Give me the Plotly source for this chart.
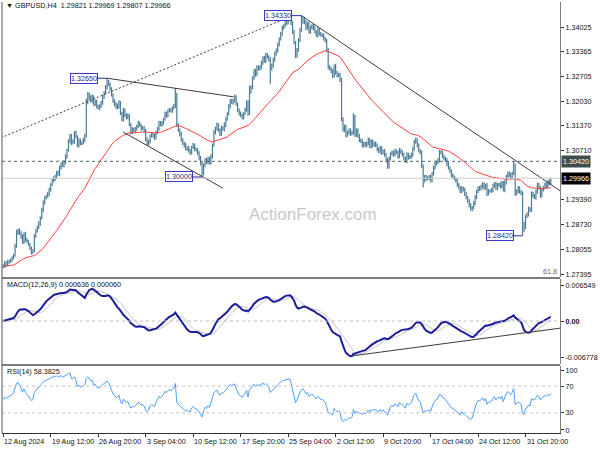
import pandas as pd
import plotly.graph_objects as go

# ---------------- data ----------------
BASE = 1.2700          # price values below are pips above this level
OPEN0 = 62             # open of the first visible H4 bar (12 Aug 2024 04:00)

# H4 closes, one row per trading day (12 Aug .. 5 Nov 2024)
CLOSE_PIPS = [
    60, 70, 64, 72, 74,
    78, 82, 90, 115, 150, 157,
    150, 140, 125, 148, 132, 127,
    120, 108, 98, 102, 140, 155,
    165, 175, 190, 210, 232, 245,
    248, 255, 265, 280, 290, 295,
    300, 312, 308, 325, 335, 330,
    340, 355, 372, 395, 410, 392,
    395, 418, 408, 385, 398, 390,
    392, 400, 410, 500, 522, 513,
    505, 515, 495, 502, 490, 485,
    490, 500, 515, 525, 540, 555,
    550, 535, 520, 505, 495, 487,
    490, 500, 470, 455, 480, 465,
    460, 465, 440, 420, 428, 425,
    430, 435, 445, 440, 430, 432,
    425, 400, 390, 395, 410, 415,
    410, 405, 420, 430, 445, 440,
    445, 455, 470, 465, 478, 480,
    478, 485, 490, 520, 440, 425,
    415, 400, 390, 385, 375, 378,
    370, 365, 380, 385, 375, 372,
    365, 350, 335, 310, 330, 345,
    340, 350, 338, 355, 385, 420,
    430, 440, 425, 415, 432, 428,
    440, 455, 470, 490, 505, 500,
    505, 515, 495, 480, 470, 465,
    460, 470, 480, 500, 470, 530,
    540, 565, 585, 575, 595, 590,
    595, 605, 620, 612, 628, 622,
    615, 590, 600, 615, 630, 640,
    655, 670, 685, 700, 705, 712,
    715, 722, 725, 712, 690, 660,
    625, 640, 668, 695, 715, 725,
    715, 700, 712, 690, 700, 705,
    700, 690, 680, 695, 685, 680,
    680, 672, 665, 640, 595, 590,
    585, 570, 598, 580, 572, 575,
    560, 455, 425, 435, 412, 420,
    425, 415, 420, 460, 412, 425,
    410, 400, 395, 385, 390, 385,
    390, 400, 382, 395, 385, 390,
    385, 375, 368, 378, 365, 370,
    360, 345, 328, 350, 362, 365,
    360, 370, 365, 355, 372, 365,
    360, 350, 342, 360, 352, 355,
    360, 375, 395, 400, 385, 370,
    365, 330, 290, 300, 295, 298,
    300, 290, 310, 325, 335, 340,
    345, 368, 365, 355, 350, 345,
    335, 325, 315, 305, 300, 295,
    290, 280, 270, 262, 270, 265,
    255, 245, 235, 225, 215, 218,
    230, 245, 262, 270, 268, 275,
    280, 270, 278, 255, 262, 262,
    265, 275, 282, 270, 278, 280,
    275, 285, 265, 285, 300, 310,
    305, 300, 310, 330, 255, 262,
    270, 260, 255, 175, 165, 195,
    200, 215, 210, 255, 250, 245,
    260, 280, 270, 250, 265, 272,
    280, 275, 288, 282.1, 296.6,
]

# upper wick above the bar body, pips
UP_WICK = [
    4, 5, 3, 6, 4,
    3, 5, 4, 6, 8, 4,
    5, 4, 6, 3, 5, 4,
    4, 3, 5, 4, 6, 5,
    5, 6, 4, 7, 5, 4,
    4, 5, 6, 3, 5, 6,
    6, 4, 5, 6, 4, 5,
    5, 6, 4, 7, 6, 5,
    6, 5, 7, 4, 6, 5,
    4, 5, 6, 10, 6, 5,
    6, 7, 4, 6, 5, 4,
    5, 4, 6, 5, 6, 10,
    5, 4, 6, 5, 4, 6,
    7, 6, 4, 5, 6, 4,
    5, 6, 4, 5, 6, 4,
    4, 5, 6, 4, 3, 5,
    5, 4, 6, 5, 4, 5,
    4, 6, 5, 4, 6, 5,
    5, 4, 6, 5, 4, 6,
    4, 5, 6, 19, 6, 5,
    5, 6, 4, 5, 6, 4,
    6, 5, 4, 6, 5, 4,
    5, 4, 6, 5, 6, 5,
    6, 5, 4, 6, 5, 6,
    5, 6, 4, 5, 6, 4,
    6, 5, 4, 6, 5, 4,
    5, 6, 4, 5, 4, 6,
    5, 4, 6, 5, 6, 15,
    6, 5, 4, 6, 5, 4,
    5, 6, 4, 5, 6, 4,
    5, 6, 4, 5, 6, 5,
    6, 5, 4, 6, 5, 6,
    5, 4, 3, 5, 6, 5,
    5, 6, 4, 5, 18, 4,
    5, 6, 4, 5, 6, 5,
    6, 5, 4, 6, 5, 4,
    5, 6, 4, 5, 6, 5,
    6, 5, 4, 6, 5, 4,
    5, 6, 5, 6, 5, 4,
    5, 6, 4, 11, 6, 5,
    6, 5, 4, 6, 5, 4,
    5, 6, 4, 5, 6, 4,
    6, 5, 4, 6, 5, 4,
    5, 4, 6, 5, 4, 6,
    5, 6, 4, 5, 6, 4,
    6, 5, 4, 6, 5, 4,
    5, 6, 5, 6, 4, 5,
    5, 6, 4, 5, 6, 4,
    6, 5, 4, 6, 5, 4,
    5, 5, 4, 6, 5, 4,
    6, 5, 4, 6, 5, 4,
    5, 6, 4, 5, 6, 4,
    6, 5, 4, 6, 5, 4,
    5, 6, 4, 5, 6, 4,
    6, 5, 4, 6, 5, 4,
    5, 6, 4, 5, 6, 4,
    6, 5, 4, 6, 5, 4,
    5, 6, 4, 13, 6, 5,
    6, 5, 4, 6, 5, 4,
    5, 6, 4, 6, 5, 4,
    6, 5, 4, 6, 5, 4,
    5, 6, 4, 5, 0.3,
]

# lower wick below the bar body, pips
DN_WICK = [
    5, 4, 6, 3, 5,
    4, 5, 3, 4, 5, 6,
    5, 6, 4, 5, 6, 4,
    5, 4, 6, 5, 4, 3,
    4, 5, 6, 4, 5, 6,
    5, 4, 6, 5, 4, 5,
    6, 5, 4, 6, 5, 4,
    4, 5, 6, 4, 5, 6,
    5, 6, 4, 5, 6, 5,
    4, 5, 6, 4, 5, 6,
    5, 6, 4, 5, 6, 4,
    5, 4, 6, 5, 4, 5,
    6, 5, 4, 6, 5, 4,
    5, 6, 4, 5, 6, 4,
    6, 5, 4, 6, 5, 4,
    5, 6, 4, 5, 6, 4,
    6, 5, 4, 6, 5, 4,
    5, 6, 4, 5, 6, 4,
    6, 5, 4, 6, 5, 4,
    5, 6, 4, 5, 6, 4,
    6, 5, 4, 6, 5, 4,
    5, 6, 4, 5, 6, 4,
    6, 5, 4, 10, 6, 4,
    5, 6, 4, 5, 6, 4,
    6, 5, 4, 6, 5, 4,
    5, 6, 4, 5, 6, 4,
    6, 5, 4, 6, 5, 4,
    5, 6, 4, 5, 6, 4,
    6, 5, 4, 6, 5, 4,
    5, 6, 4, 5, 6, 4,
    5, 40, 4, 6, 5, 4,
    6, 5, 4, 6, 5, 4,
    5, 6, 4, 5, 6, 4,
    6, 5, 4, 6, 5, 4,
    5, 6, 4, 5, 6, 4,
    6, 5, 4, 6, 5, 4,
    5, 6, 4, 5, 6, 4,
    6, 5, 4, 6, 5, 4,
    5, 6, 4, 5, 6, 4,
    6, 5, 4, 6, 5, 4,
    5, 6, 4, 5, 6, 4,
    6, 5, 4, 6, 5, 4,
    5, 6, 4, 5, 6, 4,
    5, 6, 6, 5, 6, 4,
    6, 5, 4, 6, 5, 4,
    5, 6, 4, 5, 6, 4,
    6, 5, 4, 6, 5, 4,
    5, 6, 18, 5, 6, 4,
    6, 5, 4, 6, 5, 4,
    5, 6, 4, 5, 6, 4,
    6, 5, 4, 6, 5, 4,
    5, 6, 4, 5, 6, 4,
    6, 5, 4, 6, 5, 8,
    5, 6, 4, 5, 6, 4,
    6, 5, 4, 6, 5, 4,
    5, 6, 4, 5, 6, 4,
    6, 5, 4, 6, 5, 4,
    5, 6, 4, 5, 6, 4,
    6, 5, 4, 33, 12, 5,
    5, 6, 4, 5, 6, 4,
    6, 5, 4, 6, 5, 4,
    5, 6, 4, 5, 1.4,
]

TICK_BARS = [0, 32, 64, 96, 128, 160, 192, 224, 256, 288, 320, 352]
TICK_LABELS = ["12 Aug 2024", "19 Aug 12:00", "26 Aug 20:00", "3 Sep 04:00",
               "10 Sep 12:00", "17 Sep 20:00", "25 Sep 04:00", "2 Oct 12:00",
               "9 Oct 20:00", "17 Oct 04:00", "24 Oct 12:00", "31 Oct 20:00"]
PRICE_TICKS = [1.34025, 1.33365, 1.32705, 1.32030, 1.31370, 1.30710,
               1.29390, 1.28730, 1.28055, 1.27395]
MACD_TICKS = [0.006549, 0.0, -0.006778]
MACD_TICK_TEXT = ["0.006549", "<b>0.00</b>", "-0.006778"]
# MT4 draws the 100 / 0 RSI labels just inside the window edges
RSI_TICK_POS = [93, 70, 30, 4.5]
RSI_TICK_TEXT = ["100", "70", "30", "0"]
RSI_LEVELS = [70, 30]
RESIST_LEVEL = 1.30420
FIB_LEVEL = 1.27449
# analysis lines: (bar0, price0, bar1, price1, dash)
TRENDLINES = [
    (-1.5, 1.3105, 193, 1.3430, "2px,2px"),
    (70, 1.32650, 155.3, 1.3215, "solid"),
    (80.7, 1.3121, 148, 1.2970, "solid"),
    (201, 1.34330, 375.2, 1.2963, "solid"),
]
LABEL_BARS = [70, 134, 201, 350]
LABEL_KIND = ["high", "low", "high", "low"]
TITLE = "\u25bc GBPUSD,H4  1.29821 1.29969 1.29807 1.29966"
MACD_TITLE = "MACD(12,26,9) 0.000636 0.000060"
RSI_TITLE = "RSI(14) 58.3825"

# ---------------- derived series ----------------
n = len(CLOSE_PIPS)
idx = list(range(n))
open_p = [OPEN0] + CLOSE_PIPS[:-1]
high_p = [max(a, b) + u for a, b, u in zip(open_p, CLOSE_PIPS, UP_WICK)]
low_p = [min(a, b) - d for a, b, d in zip(open_p, CLOSE_PIPS, DN_WICK)]
px = lambda v: round(BASE + v / 10000.0, 5)
O = [px(v) for v in open_p]
H = [px(v) for v in high_p]
L = [px(v) for v in low_p]
C = [px(v) for v in CLOSE_PIPS]

cs = pd.Series(C)
ema55 = cs.ewm(span=55, adjust=False).mean()
macd = cs.ewm(span=12, adjust=False).mean() - cs.ewm(span=26, adjust=False).mean()
signal = macd.rolling(9, min_periods=1).mean()

diff = cs.diff().fillna(0.0)
seed = diff.iloc[1:15].abs().mean() / 2
ag, al = seed, seed
rsi = []
for dlt in diff:
    ag = (ag * 13 + max(dlt, 0)) / 14
    al = (al * 13 + max(-dlt, 0)) / 14
    rsi.append(100 - 100 / (1 + ag / al) if al > 0 else 100)

# ---------------- figure ----------------
BAR = "#4a7b98"
FONT = "Liberation Sans"
XR = [-0.8, 375.2]
D_MAIN = [0.362, 1.0]
D_MACD = [0.1601, 0.3573]
D_RSI = [0.0, 0.1555]

fig = go.Figure()
fig.add_trace(go.Ohlc(x=idx, open=O, high=H, low=L, close=C,
                      increasing_line_color=BAR, decreasing_line_color=BAR,
                      line_width=1.2, tickwidth=0.3, xaxis="x", yaxis="y",
                      hoverinfo="skip"))
fig.add_trace(go.Scatter(x=idx, y=ema55, mode="lines",
                         line=dict(color="#ff3b3b", width=1), yaxis="y"))
fig.add_trace(go.Scatter(x=idx, y=signal, mode="lines",
                         line=dict(color="#c4c4c4", width=1), yaxis="y2"))
fig.add_trace(go.Scatter(x=idx, y=macd, mode="lines",
                         line=dict(color="#1c1c9c", width=2), yaxis="y2"))
fig.add_trace(go.Scatter(x=idx, y=rsi, mode="lines",
                         line=dict(color="#4aa0ff", width=1), yaxis="y3"))

shapes = []
for b0, p0, b1, p1, dash in TRENDLINES:
    shapes.append(dict(type="line", xref="x", yref="y", x0=b0, y0=p0, x1=b1, y1=p1,
                       line=dict(color="#3c3c3c", width=1, dash=dash)))
shapes.append(dict(type="line", xref="paper", yref="y", x0=0, x1=1,
                   y0=RESIST_LEVEL, y1=RESIST_LEVEL,
                   line=dict(color="#4f6464", width=1, dash="3px,3px")))
shapes.append(dict(type="line", xref="paper", yref="y", x0=0, x1=1,
                   y0=C[-1], y1=C[-1], line=dict(color="#cccccc", width=1)))
lo1 = int(macd.iloc[200:270].idxmin())
lo2 = int(macd.iloc[340:362].idxmin())
slope = (macd[lo2] - macd[lo1]) / (lo2 - lo1)
shapes.append(dict(type="line", xref="x", yref="y2", x0=lo1, y0=macd[lo1],
                   x1=XR[1], y1=macd[lo1] + slope * (XR[1] - lo1),
                   line=dict(color="#3c3c3c", width=1)))
shapes.append(dict(type="line", xref="paper", yref="y2", x0=0, x1=1, y0=0, y1=0,
                   line=dict(color="#bdbdbd", width=1, dash="3px,3px")))
for lv in RSI_LEVELS:
    shapes.append(dict(type="line", xref="paper", yref="y3", x0=0, x1=1, y0=lv, y1=lv,
                       line=dict(color="#c4c4c4", width=1, dash="3px,3px")))
for a, b in [(D_MACD[1], D_MAIN[0]), (D_RSI[1], D_MACD[0])]:
    shapes.append(dict(type="rect", xref="paper", yref="paper", x0=0, x1=1, y0=a, y1=b,
                       fillcolor="#7c7c7c", line=dict(width=0)))
shapes.append(dict(type="line", xref="paper", yref="paper", x0=0, x1=0, y0=0, y1=1,
                   line=dict(color="#555555", width=1)))

ann = []
small = dict(family=FONT, size=7.2, color="#111111")
ann.append(dict(text=TITLE, xref="paper", yref="paper", x=0.004, y=0.993,
                xanchor="left", yanchor="middle", showarrow=False, font=small))
ann.append(dict(text=MACD_TITLE, xref="paper", yref="paper", x=0.006, y=0.3445,
                xanchor="left", yanchor="middle", showarrow=False, font=small))
ann.append(dict(text=RSI_TITLE, xref="paper", yref="paper", x=0.006, y=0.1425,
                xanchor="left", yanchor="middle", showarrow=False, font=small))
ann.append(dict(text="ActionForex.com", xref="paper", yref="paper", x=0.557, y=0.506,
                xanchor="center", yanchor="middle", showarrow=False,
                font=dict(family=FONT, size=17, color="#c9c9c9")))
for b, t in zip(TICK_BARS, TICK_LABELS):
    ann.append(dict(text=t, xref="x", yref="paper", x=b, y=-0.0186, xanchor="left",
                    yanchor="middle", xshift=-1, showarrow=False, font=small))
for b, kind in zip(LABEL_BARS, LABEL_KIND):
    val = H[b] if kind == "high" else L[b]
    ann.append(dict(text=f"{val:.5f}", xref="x", yref="y", x=b, y=val,
                    showarrow=True, arrowhead=0, arrowwidth=1, arrowcolor="#2c2c9c",
                    ax=-23, ay=0, bgcolor="white", bordercolor="#3a3ad0",
                    borderwidth=1, borderpad=0,
                    font=dict(family=FONT, size=7.2, color="#2a2a80")))
ann.append(dict(text=f"{RESIST_LEVEL:.5f}", xref="paper", yref="y", x=1, y=RESIST_LEVEL,
                xanchor="left", yanchor="middle", xshift=1, showarrow=False,
                bgcolor="#3e4e4e", borderpad=1,
                font=dict(family=FONT, size=7.2, color="white")))
ann.append(dict(text=f"{C[-1]:.5f}", xref="paper", yref="y", x=1, y=C[-1],
                xanchor="left", yanchor="middle", xshift=1, showarrow=False,
                bgcolor="#000000", borderpad=1,
                font=dict(family=FONT, size=7.2, color="white")))
ann.append(dict(text="61.8", xref="paper", yref="y", x=1, y=FIB_LEVEL,
                xanchor="right", yanchor="middle", xshift=-1, showarrow=False,
                font=dict(family=FONT, size=7.2, color="#666666")))

yax = dict(side="right", showgrid=False, zeroline=False, ticks="outside", ticklen=3,
           tickcolor="#333333", tickfont=dict(family=FONT, size=7.2, color="#111111"),
           showline=True, linecolor="#7c7c7c", linewidth=1, anchor="x")
fig.update_layout(
    width=600, height=450, margin=dict(l=2, r=34, t=2, b=17),
    paper_bgcolor="white", plot_bgcolor="white", showlegend=False,
    font=dict(family=FONT),
    xaxis=dict(range=XR, domain=[0, 1], anchor="y3", showgrid=False, zeroline=False,
               tickvals=TICK_BARS, showticklabels=False, ticks="outside", ticklen=3,
               tickcolor="#333333", showline=True, linecolor="#333333",
               rangeslider=dict(visible=False), fixedrange=True),
    yaxis=dict(yax, domain=D_MAIN, range=[1.27315, 1.34696],
               tickvals=PRICE_TICKS, ticktext=[f"{v:.5f}" for v in PRICE_TICKS]),
    yaxis2=dict(yax, domain=D_MACD, range=[-0.00796, 0.00778],
                tickvals=MACD_TICKS, ticktext=MACD_TICK_TEXT),
    yaxis3=dict(yax, domain=D_RSI, range=[0, 100],
                tickvals=RSI_TICK_POS, ticktext=RSI_TICK_TEXT),
    shapes=shapes, annotations=ann,
)
fig.write_html("out.html", config={"displayModeBar": False},
               post_script="document.body.style.margin='0';")
